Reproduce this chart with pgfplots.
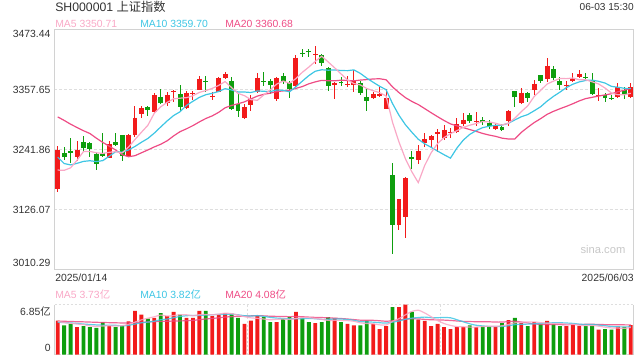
\documentclass[border=0pt]{standalone}
\usepackage{pgfplots}
\pgfplotsset{compat=1.18}
\usepackage{pgfplotstable}
\usepackage{fontspec}
\setmainfont{Liberation Sans}
\newfontfamily\cjk{Noto Sans CJK SC}
\definecolor{upred}{HTML}{F21B1B}
\definecolor{dngreen}{HTML}{0E9E0E}
\definecolor{ma5c}{HTML}{F9A8C6}
\definecolor{ma10c}{HTML}{3EC6E4}
\definecolor{ma20c}{HTML}{EE4C85}
\definecolor{txt}{HTML}{333333}
\definecolor{bord}{HTML}{D2D2D2}
\definecolor{gridc}{HTML}{DEDEDE}

\pgfplotstableread{
i O H L C
0 3165.0 3248.0 3160.0 3240.94
3 3228.3 3258.0 3220.6 3241.82
8 3226.2 3257.8 3225.6 3252.63
11 3228.8 3272.0 3227.0 3270.66
12 3270.9 3326.9 3266.4 3303.67
13 3310.6 3326.7 3302.9 3322.17
15 3314.2 3350.3 3313.0 3346.39
17 3332.6 3352.5 3326.2 3346.72
18 3353.9 3357.7 3333.3 3355.83
20 3322.5 3354.8 3321.0 3351.54
21 3348.9 3355.3 3337.9 3350.78
22 3357.9 3383.6 3356.6 3379.11
24 3344.1 3353.7 3337.7 3346.04
25 3353.8 3381.5 3352.5 3380.21
26 3380.3 3391.3 3378.4 3388.06
29 3303.0 3330.0 3301.7 3324.21
30 3327.8 3347.0 3316.8 3341.96
31 3353.5 3390.0 3351.6 3381.10
34 3340.0 3382.0 3336.0 3379.83
37 3364.2 3424.0 3362.9 3419.56
40 3424.4 3441.2 3407.6 3426.35
43 3366.8 3373.2 3340.4 3370.03
45 3366.8 3384.1 3363.6 3368.70
46 3366.0 3396.3 3353.1 3373.75
49 3342.0 3352.3 3340.0 3348.44
50 3345.0 3362.3 3343.0 3350.13
51 3320.8 3359.4 3320.0 3342.01
53 3095.4 3146.5 3085.7 3145.55
54 3112.2 3188.0 3071.0 3186.81
56 3221.4 3251.7 3213.7 3238.23
57 3254.4 3274.4 3246.0 3262.81
58 3261.3 3269.6 3247.2 3267.66
59 3271.5 3281.2 3238.1 3276.00
60 3264.2 3288.7 3259.7 3280.34
61 3274.8 3283.1 3265.1 3276.73
62 3276.0 3303.0 3274.0 3291.43
63 3291.4 3312.7 3288.2 3299.76
65 3295.4 3314.7 3287.7 3297.29
68 3282.2 3291.2 3279.0 3286.65
70 3296.8 3319.3 3287.1 3316.11
72 3331.4 3360.4 3329.5 3352.00
74 3356.3 3375.6 3346.6 3369.24
76 3378.9 3419.4 3372.5 3403.95
79 3365.7 3375.3 3357.3 3367.58
80 3373.4 3390.2 3372.0 3380.48
81 3382.4 3396.0 3380.0 3387.57
84 3344.9 3361.6 3335.2 3346.84
87 3342.8 3371.2 3341.0 3363.45
89 3344.0 3369.7 3342.0 3361.98
}\upT

\pgfplotstableread{
i O H L C
1 3234.8 3246.4 3222.5 3227.12
2 3239.3 3265.0 3216.7 3236.03
4 3256.0 3268.9 3238.6 3244.38
5 3255.5 3257.0 3227.2 3242.62
6 3232.9 3238.0 3202.0 3213.62
7 3236.0 3273.4 3228.3 3230.16
9 3256.4 3273.8 3248.7 3250.60
10 3270.0 3271.0 3220.5 3229.49
14 3323.9 3326.5 3305.9 3318.06
16 3343.5 3358.9 3332.0 3332.48
19 3349.0 3365.8 3314.3 3324.49
23 3374.9 3384.0 3353.7 3373.03
27 3374.9 3382.6 3318.0 3320.90
28 3329.8 3349.1 3304.0 3316.93
32 3374.5 3391.9 3364.8 3372.55
33 3373.9 3377.8 3348.8 3366.16
35 3384.8 3390.0 3368.7 3371.92
36 3369.7 3374.9 3340.7 3358.73
38 3429.0 3435.4 3420.6 3426.43
39 3432.4 3435.6 3421.4 3429.76
41 3423.8 3425.7 3403.8 3408.95
42 3400.2 3401.0 3355.1 3364.83
44 3372.6 3382.3 3364.8 3369.98
47 3370.6 3375.1 3348.1 3351.31
48 3343.5 3358.3 3316.5 3335.75
52 3193.1 3216.9 3040.6 3096.58
55 3227.5 3238.5 3204.3 3223.64
64 3308.0 3313.2 3292.5 3296.36
66 3299.6 3304.8 3288.7 3295.06
67 3292.3 3298.7 3280.7 3288.41
69 3284.8 3291.2 3278.0 3279.03
71 3354.3 3355.0 3323.4 3342.67
73 3350.4 3352.3 3334.3 3342.00
75 3385.9 3386.5 3369.7 3374.87
77 3397.6 3403.4 3376.3 3380.82
78 3374.6 3382.3 3356.5 3367.46
82 3382.1 3389.8 3375.7 3380.19
83 3375.4 3390.2 3347.0 3348.37
85 3346.5 3351.0 3333.0 3340.69
86 3341.9 3347.7 3336.7 3339.93
88 3357.2 3362.4 3339.8 3347.49
}\dnT

\pgfplotstableread{
i ma5 ma10 ma20
0 3202.36 3227.41 3304.98
1 3201.75 3214.94 3298.26
2 3206.67 3212.29 3290.95
3 3221.33 3215.33 3284.54
4 3238.06 3219.08 3278.35
5 3238.39 3220.38 3272.92
6 3235.69 3218.72 3263.93
7 3234.52 3220.60 3255.77
8 3236.68 3229.01 3248.50
9 3237.93 3237.99 3241.02
10 3235.30 3236.85 3232.13
11 3246.71 3241.20 3228.07
12 3261.41 3247.97 3230.13
13 3275.32 3256.00 3235.67
14 3288.81 3263.37 3241.22
15 3312.19 3273.75 3247.06
16 3324.55 3285.63 3252.18
17 3333.16 3297.29 3258.94
18 3339.90 3307.61 3268.31
19 3341.18 3315.00 3276.49
20 3342.21 3327.20 3282.02
21 3345.87 3335.21 3288.21
22 3352.35 3342.76 3295.36
23 3355.79 3347.84 3301.92
24 3360.10 3350.64 3307.00
25 3365.83 3354.02 3313.88
26 3373.29 3359.58 3322.61
27 3361.65 3357.00 3327.14
28 3350.43 3353.11 3330.36
29 3346.06 3353.08 3334.04
30 3338.41 3352.12 3339.66
31 3337.02 3355.16 3345.18
32 3347.35 3354.50 3348.63
33 3357.20 3353.81 3350.83
34 3368.32 3357.19 3353.92
35 3374.31 3356.36 3355.19
36 3369.84 3353.43 3356.51
37 3379.24 3363.30 3360.15
38 3391.29 3374.25 3363.68
39 3401.28 3384.80 3368.94
40 3412.17 3393.24 3372.68
41 3422.21 3396.02 3375.59
42 3411.26 3395.25 3374.88
43 3399.98 3395.64 3374.73
44 3388.03 3394.65 3375.92
45 3376.50 3394.33 3375.35
46 3369.46 3395.83 3374.63
47 3366.75 3389.01 3376.15
48 3359.90 3379.94 3377.09
49 3355.59 3371.81 3378.30
50 3351.88 3364.19 3378.71
51 3345.53 3357.49 3376.76
52 3294.58 3330.67 3362.96
53 3256.54 3308.22 3351.93
54 3224.22 3289.90 3342.28
55 3198.92 3275.40 3334.86
56 3178.16 3261.85 3328.84
57 3211.41 3253.00 3321.00
58 3235.83 3246.19 3313.06
59 3253.67 3238.94 3305.38
60 3265.01 3231.96 3298.08
61 3272.71 3225.44 3291.46
62 3278.43 3244.92 3287.79
63 3284.85 3260.34 3284.28
64 3288.92 3271.30 3280.60
65 3292.31 3278.66 3277.03
66 3295.98 3284.34 3273.09
67 3295.38 3286.90 3269.95
68 3292.75 3288.80 3267.49
69 3289.29 3289.11 3264.02
70 3293.05 3292.68 3262.32
71 3302.57 3299.28 3262.36
72 3315.29 3305.33 3275.13
73 3326.36 3309.56 3284.95
74 3344.40 3316.85 3294.07
75 3356.16 3324.60 3301.63
76 3368.41 3335.49 3309.92
77 3374.18 3344.73 3315.82
78 3379.27 3352.82 3320.81
79 3378.94 3361.67 3325.39
80 3380.06 3368.11 3330.40
81 3376.78 3372.60 3335.94
82 3376.66 3375.42 3340.38
83 3372.84 3376.05 3342.81
84 3368.69 3373.81 3345.33
85 3360.73 3370.40 3347.50
86 3351.20 3363.99 3349.74
87 3347.86 3362.26 3353.50
88 3347.68 3360.26 3356.54
89 3350.71 3359.70 3360.68
}\maT

\pgfplotstableread{
i v
0 4.66
3 3.79
8 3.93
11 4.57
12 5.99
13 5.48
15 5.03
17 5.30
18 5.85
20 5.03
21 5.03
22 5.99
24 5.30
25 5.48
26 5.71
29 4.21
30 4.66
31 5.40
34 4.48
37 5.85
40 4.34
43 5.03
45 4.21
46 4.03
49 4.21
50 3.52
51 3.93
53 6.53
54 6.85
56 4.80
57 4.62
58 3.93
59 4.21
60 3.79
61 3.52
62 3.79
63 3.79
65 3.79
68 3.79
70 4.75
72 4.34
74 4.45
76 4.62
79 3.93
80 4.20
81 3.95
84 3.45
87 3.85
89 4.05
}\vupT

\pgfplotstableread{
i v
1 4.03
2 4.21
4 3.93
5 3.79
6 3.66
7 4.48
9 3.79
10 4.03
14 4.93
16 5.71
19 5.48
23 5.99
27 5.62
28 5.03
32 5.16
33 4.48
35 4.89
36 5.16
38 5.03
39 4.48
41 4.48
42 5.16
44 4.48
47 4.03
48 4.66
52 6.53
55 5.85
64 4.03
66 3.93
67 3.93
69 4.34
71 5.03
73 3.93
75 4.21
77 4.21
78 3.93
82 3.95
83 4.00
85 3.50
86 3.45
88 3.80
}\vdnT

\pgfplotstableread{
i m5 m10 m20
0 4.55 4.45 4.60
1 4.40 4.40 4.58
2 4.30 4.35 4.55
3 4.20 4.28 4.52
4 4.12 4.20 4.50
5 3.95 4.14 4.47
6 3.88 4.08 4.44
7 3.93 4.05 4.41
8 3.96 4.03 4.39
9 3.93 4.03 4.37
10 3.98 3.96 4.35
11 4.16 4.02 4.36
12 4.46 4.20 4.40
13 4.77 4.37 4.44
14 5.00 4.47 4.48
15 5.20 4.59 4.52
16 5.43 4.79 4.56
17 5.29 4.88 4.58
18 5.36 5.07 4.61
19 5.47 5.24 4.63
20 5.47 5.34 4.65
21 5.34 5.38 4.70
22 5.48 5.38 4.79
23 5.50 5.43 4.90
24 5.47 5.47 4.97
25 5.56 5.52 5.05
26 5.69 5.52 5.16
27 5.62 5.55 5.21
28 5.43 5.47 5.27
29 5.21 5.34 5.29
30 5.05 5.30 5.32
31 4.98 5.34 5.36
32 4.89 5.26 5.32
33 4.78 5.11 5.27
34 4.84 5.02 5.25
35 4.88 4.96 5.24
36 4.83 4.91 5.21
37 4.97 4.93 5.24
38 5.08 4.93 5.20
39 5.08 4.96 5.15
40 4.97 4.93 5.11
41 4.84 4.84 5.09
42 4.70 4.84 5.05
43 4.70 4.89 5.00
44 4.70 4.89 4.96
45 4.67 4.82 4.89
46 4.58 4.71 4.81
47 4.36 4.53 4.73
48 4.28 4.49 4.71
49 4.23 4.46 4.71
50 4.09 4.38 4.65
51 4.07 4.33 4.58
52 4.57 4.46 4.65
53 4.94 4.61 4.75
54 5.46 4.85 4.87
55 5.93 5.01 4.92
56 6.10 5.09 4.90
57 5.72 5.15 4.84
58 5.20 5.07 4.78
59 4.68 5.07 4.77
60 4.27 5.10 4.74
61 4.01 5.06 4.69
62 3.85 4.79 4.62
63 3.82 4.51 4.56
64 3.78 4.23 4.54
65 3.78 4.03 4.52
66 3.87 3.94 4.51
67 3.89 3.87 4.51
68 3.89 3.86 4.47
69 3.96 3.87 4.47
70 4.15 3.97 4.53
71 4.37 4.12 4.59
72 4.45 4.17 4.48
73 4.48 4.19 4.35
74 4.50 4.23 4.23
75 4.39 4.27 4.15
76 4.31 4.34 4.14
77 4.28 4.37 4.12
78 4.28 4.38 4.12
79 4.18 4.34 4.11
80 4.18 4.29 4.13
81 4.04 4.18 4.15
82 3.99 4.14 4.16
83 4.01 4.15 4.17
84 3.91 4.05 4.14
85 3.77 3.97 4.12
86 3.67 3.86 4.10
87 3.65 3.82 4.09
88 3.61 3.81 4.09
89 3.73 3.82 4.08
}\vmaT

\pgfplotsset{
  candle/.style 2 args={only marks, mark=*, mark size=0pt,
    mark options={draw=none, fill=none},
    error bars/.cd, y dir=both, y explicit, error mark=none,
    error bar style={draw=#1, line width=#2, line cap=butt}},
}

\begin{document}
\begin{tikzpicture}
\path[use as bounding box] (0,0) rectangle (480pt,-270pt);

% ---------- main candlestick axis ----------
\begin{axis}[
  at={(40.875pt,-22.275pt)}, anchor=north west,
  scale only axis, width=434.625pt, height=179.85pt,
  xmin=-0.5, xmax=89.5, ymin=3010.29, ymax=3473.44,
  axis line style={draw=bord, line width=0.75pt},
  xtick=\empty, ytick={3126.07,3241.86,3357.65}, yticklabels={},
  major tick length=0pt,
  ymajorgrids,
  grid style={gridc, line width=0.9pt, dash pattern=on 2.25pt off 1.5pt},
]
% wicks
\addplot[candle={upred}{0.75pt}]
  table[x=i, y=C, y error plus expr=\thisrow{H}-\thisrow{C}, y error minus expr=\thisrow{C}-\thisrow{L}] {\upT};
\addplot[candle={dngreen}{0.75pt}]
  table[x=i, y=C, y error plus expr=\thisrow{H}-\thisrow{C}, y error minus expr=\thisrow{C}-\thisrow{L}] {\dnT};
% bodies
\addplot[candle={upred}{3.7pt}]
  table[x=i, y=C, y error plus expr=0, y error minus expr=\thisrow{C}-\thisrow{O}] {\upT};
\addplot[candle={dngreen}{3.7pt}]
  table[x=i, y=C, y error plus expr=\thisrow{O}-\thisrow{C}, y error minus expr=0] {\dnT};
% moving averages
\addplot[ma20c, line width=0.9pt, mark=none] table[x=i, y=ma20] {\maT};
\addplot[ma10c, line width=0.9pt, mark=none] table[x=i, y=ma10] {\maT};
\addplot[ma5c, line width=0.9pt, mark=none] table[x=i, y=ma5] {\maT};
\end{axis}

% ---------- volume axis ----------
\begin{axis}[
  at={(40.875pt,-228.525pt)}, anchor=north west,
  scale only axis, width=434.625pt, height=37.5pt,
  xmin=-0.5, xmax=89.5, ymin=0, ymax=6.85,
  axis line style={draw=none},
  xtick=\empty, ytick=\empty,
  clip=false,
]
\draw[gridc, line width=1.1pt, dash pattern=on 1.5pt off 1.5pt] (rel axis cs:0,1) -- (rel axis cs:1,1);
\draw[gridc, line width=1.1pt, dash pattern=on 1.5pt off 1.5pt] (rel axis cs:0,0) -- (rel axis cs:1,0);
\draw[gridc, line width=0.75pt, dash pattern=on 1.5pt off 1.5pt] (rel axis cs:0.3333,0) -- (rel axis cs:0.3333,1);
\draw[gridc, line width=0.75pt, dash pattern=on 1.5pt off 1.5pt] (rel axis cs:0.6667,0) -- (rel axis cs:0.6667,1);
\draw[bord, line width=0.75pt] (rel axis cs:0,0) -- (rel axis cs:0,1);
\draw[bord, line width=0.75pt] (rel axis cs:1,0) -- (rel axis cs:1,1);
\addplot[ybar, bar width=2.9pt, bar shift=0pt, fill=upred, draw=none] table[x=i, y=v] {\vupT};
\addplot[ybar, bar width=2.9pt, bar shift=0pt, fill=dngreen, draw=none] table[x=i, y=v] {\vdnT};
\addplot[ma20c, line width=0.9pt, opacity=0.85, smooth, tension=0.4, mark=none] table[x=i, y=m20] {\vmaT};
\addplot[ma10c, line width=0.9pt, opacity=0.85, smooth, tension=0.4, mark=none] table[x=i, y=m10] {\vmaT};
\addplot[ma5c, line width=0.9pt, opacity=0.85, smooth, tension=0.4, mark=none] table[x=i, y=m5] {\vmaT};
\end{axis}

% ---------- texts ----------
\node[anchor=west, inner sep=0pt, text=txt] at (41.25pt,-5.5pt) {\fontsize{9.2pt}{11pt}\selectfont SH000001 {\cjk 上证指数}};
\node[anchor=east, inner sep=0pt, text=txt] at (475.5pt,-5.6pt) {\fontsize{7.6pt}{9pt}\selectfont 06-03 15:30};

\begin{scope}[every node/.style={anchor=west, inner sep=0pt}]
\node[text=ma5c]  at (41.25pt,-18.2pt) {\fontsize{7.8pt}{9pt}\selectfont MA5 3350.71};
\node[text=ma10c] at (105pt,-18.2pt)   {\fontsize{7.8pt}{9pt}\selectfont MA10 3359.70};
\node[text=ma20c] at (168.75pt,-18.2pt){\fontsize{7.8pt}{9pt}\selectfont MA20 3360.68};
\node[text=ma5c]  at (41.25pt,-221.25pt) {\fontsize{7.8pt}{9pt}\selectfont MA5 3.73{\cjk 亿}};
\node[text=ma10c] at (105pt,-221.25pt)   {\fontsize{7.8pt}{9pt}\selectfont MA10 3.82{\cjk 亿}};
\node[text=ma20c] at (168.75pt,-221.25pt){\fontsize{7.8pt}{9pt}\selectfont MA20 4.08{\cjk 亿}};
\node[text=txt] at (41.25pt,-208.2pt) {\fontsize{7.8pt}{9pt}\selectfont 2025/01/14};
\end{scope}
\node[anchor=east, inner sep=0pt, text=txt] at (475.5pt,-208.2pt) {\fontsize{7.8pt}{9pt}\selectfont 2025/06/03};

\begin{scope}[every node/.style={anchor=east, inner sep=0pt, text=txt}]
\node at (38pt,-25.7pt)  {\fontsize{7.8pt}{9pt}\selectfont 3473.44};
\node at (38pt,-67.3pt)  {\fontsize{7.8pt}{9pt}\selectfont 3357.65};
\node at (38pt,-112.3pt) {\fontsize{7.8pt}{9pt}\selectfont 3241.86};
\node at (38pt,-157.3pt) {\fontsize{7.8pt}{9pt}\selectfont 3126.07};
\node at (38pt,-197.5pt) {\fontsize{7.8pt}{9pt}\selectfont 3010.29};
\node at (38.25pt,-233.6pt) {\fontsize{7.8pt}{9pt}\selectfont 6.85{\cjk 亿}};
\node at (38.25pt,-261pt) {\fontsize{7.8pt}{9pt}\selectfont 0};
\end{scope}

\node[text=black!22, inner sep=0pt] at (452.25pt,-186.75pt) {\fontsize{8.4pt}{10pt}\selectfont sina.com};
\end{tikzpicture}
\end{document}
